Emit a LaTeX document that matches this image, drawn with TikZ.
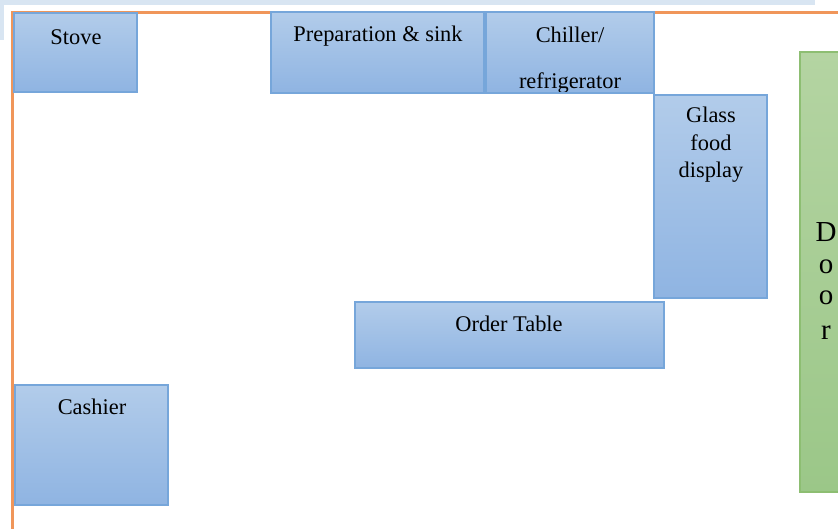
\documentclass[tikz,border=0pt]{standalone}
\usepackage{fontspec}
\setmainfont{Liberation Serif}
\definecolor{boxtop}{HTML}{B2CCEA}
\definecolor{boxbot}{HTML}{8FB4E2}
\definecolor{boxline}{HTML}{76A6DA}
\definecolor{doortop}{HTML}{B4D4A2}
\definecolor{doorbot}{HTML}{9BC788}
\definecolor{doorline}{HTML}{8DBE72}
\definecolor{frameor}{HTML}{F0965A}
\definecolor{band}{HTML}{D8E5F2}
\tikzset{
  furn/.style={draw=boxline, line width=1.5pt, top color=boxtop, bottom color=boxbot},
  doorbox/.style={draw=doorline, line width=1.5pt, top color=doortop, bottom color=doorbot},
  lbl/.style={font=\fontsize{22.4}{27.5}\selectfont, text=black, inner sep=0pt},
  doorlbl/.style={font=\fontsize{29}{33}\selectfont, text=black, inner sep=0pt}
}
\begin{document}
\begin{tikzpicture}[x=1pt,y=-1pt]
\useasboundingbox (0,0) rectangle (838,528);
% faint background band (screenshot edge)
\fill[band] (0,0) rectangle (815,5);
\fill[band] (0,0) rectangle (4,40);
% orange room frame
\draw[frameor, line width=3pt] (12,560) -- (12,12) -- (860,12);
% furniture
\path[furn] (14,13) rectangle (137,92);
\node[lbl] (stove) at (76,37) {Stove};
\path[furn] (271,12) rectangle (484,93);
\node[lbl] (prep) at (378,36) {Preparation \& sink};
\path[furn] (486,12) rectangle (654,93);
\begin{scope}
  \clip (486,12) rectangle (654,91);
  \node[lbl] (chill1) at (570,35) {Chiller/};
  \node[lbl] (chill2) at (570,83) {refrigerator};
\end{scope}
\path[furn] (654,95) rectangle (767,298);
\node[lbl, align=center] (glass) at (711,145) {Glass\\food\\display};
\path[furn] (355,302) rectangle (664,368);
\node[lbl] (order) at (509,324) {Order Table};
\path[furn] (15,385) rectangle (168,505);
\node[lbl] (cash) at (92,407) {Cashier};
% door
\path[doorbox] (800,52) rectangle (860,492);
\node[doorlbl] (d1) at (826,232) {D};
\node[doorlbl] (d2) at (826,267) {o};
\node[doorlbl] (d3) at (826,298) {o};
\node[doorlbl] (d4) at (826,333) {r};
\end{tikzpicture}
\end{document}
